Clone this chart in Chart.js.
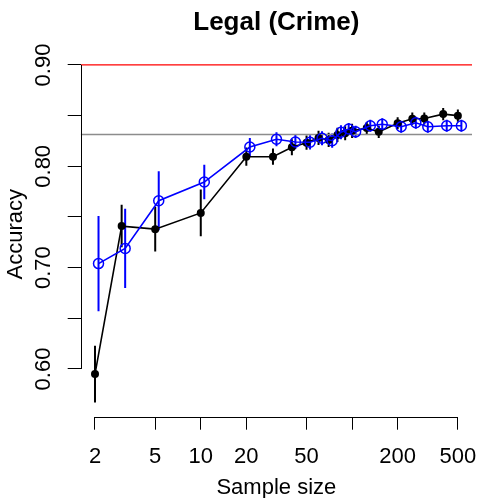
<!DOCTYPE html>
<html>
<head>
<meta charset="utf-8">
<script src="https://cdn.jsdelivr.net/npm/chart.js@4"></script>
<style>
  html, body { margin: 0; padding: 0; background: #fff; }
  canvas { display: block; }
</style>
</head>
<body>
<canvas id="chart_legal" width="498" height="498"></canvas>
<script>
// sample sizes (x) and accuracy for the two methods, with error half-widths
var sampleSizes = [2, 3, 5, 10, 20, 30, 40, 50, 60, 70, 80, 90, 100, 125, 150, 200, 250, 300, 400, 500];
var blackMean = [0.595, 0.741, 0.738, 0.754, 0.8095, 0.8095, 0.8188, 0.8233, 0.828, 0.826, 0.831, 0.8326, 0.835, 0.8378, 0.834, 0.8425, 0.847, 0.8472, 0.8515, 0.850];
var blackErr  = [0.028, 0.021, 0.022, 0.023, 0.009, 0.008, 0.008, 0.007, 0.007, 0.007, 0.007, 0.007, 0.007, 0.006, 0.006, 0.006, 0.006, 0.006, 0.006, 0.006];
var blueMean  = [0.704, 0.719, 0.766, 0.7845, 0.819, 0.8267, 0.824, 0.8237, 0.8277, 0.8253, 0.8336, 0.8368, 0.834, 0.840, 0.8415, 0.839, 0.843, 0.839, 0.840, 0.840];
var blueErr   = [0.047, 0.039, 0.029, 0.017, 0.009, 0.007, 0.007, 0.007, 0.007, 0.007, 0.007, 0.006, 0.006, 0.006, 0.006, 0.006, 0.006, 0.006, 0.006, 0.006];

var xTicks = [2, 5, 10, 20, 50, 100, 200, 500];
var xTickLabels = ['2', '5', '10', '20', '50', '', '200', '500'];
var yTicks = [0.60, 0.65, 0.70, 0.75, 0.80, 0.85, 0.90];
var yTickLabels = ['0.60', '', '0.70', '', '0.80', '', '0.90'];

var redLevel = 0.90;
var grayLevel = 0.8314;

var xMin = 1.609, xMax = 620;
var yMin = 0.5529, yMax = 0.913;
var blueShift = 1.055; // blue points are drawn slightly to the right

var FONT = '"Liberation Sans", Arial, Helvetica, sans-serif';

const toPoints = (xs, ys, k) => xs.map((n, i) => ({ x: n * k, y: ys[i] }));

const drawBars = (ctx, x, y, xs, ys, errs, k, color) => {
  ctx.save();
  ctx.strokeStyle = color;
  ctx.lineWidth = 2;
  ctx.beginPath();
  xs.forEach((n, i) => {
    var px = x.getPixelForValue(n * k);
    ctx.moveTo(px, y.getPixelForValue(ys[i] - errs[i]));
    ctx.lineTo(px, y.getPixelForValue(ys[i] + errs[i]));
  });
  ctx.stroke();
  ctx.restore();
};

const errorBars = {
  id: 'errorBars',
  beforeDatasetsDraw(chart) {
    var ctx = chart.ctx, x = chart.scales.x, y = chart.scales.y;
    drawBars(ctx, x, y, sampleSizes, blackMean, blackErr, 1, '#000000');
    drawBars(ctx, x, y, sampleSizes, blueMean, blueErr, blueShift, '#0000ff');
  }
};

// R style axes: line only between first and last tick, rotated y labels
const rAxes = {
  id: 'rAxes',
  afterDraw(chart) {
    var ctx = chart.ctx, x = chart.scales.x, y = chart.scales.y, area = chart.chartArea;
    ctx.save();
    ctx.strokeStyle = '#000';
    ctx.lineWidth = 1;
    ctx.beginPath();
    var yb = Math.round(area.bottom) + 0.5;
    ctx.moveTo(x.getPixelForValue(xTicks[0]), yb);
    ctx.lineTo(x.getPixelForValue(xTicks[xTicks.length - 1]), yb);
    var xl = Math.round(area.left) + 0.5;
    ctx.moveTo(xl, y.getPixelForValue(yTicks[0]));
    ctx.lineTo(xl, y.getPixelForValue(yTicks[yTicks.length - 1]));
    ctx.stroke();

    ctx.fillStyle = '#000';
    ctx.font = '22px ' + FONT;
    ctx.textAlign = 'center';
    ctx.textBaseline = 'alphabetic';
    yTicks.forEach((v, i) => {
      if (!yTickLabels[i]) return;
      ctx.save();
      ctx.translate(50, y.getPixelForValue(v));
      ctx.rotate(-Math.PI / 2);
      ctx.fillText(yTickLabels[i], 0, 0);
      ctx.restore();
    });
    ctx.save();
    ctx.translate(22, (area.top + area.bottom) / 2);
    ctx.rotate(-Math.PI / 2);
    ctx.fillText('Accuracy', 0, 0);
    ctx.restore();
    ctx.fillText('Sample size', (area.left + area.right) / 2, 494);
    ctx.restore();
  }
};

const lineAt = (level, color) => ({
  data: [{ x: xMin, y: level }, { x: xMax, y: level }],
  borderColor: color,
  borderWidth: 1.3,
  pointRadius: 0,
  order: 3
});

var ctx = document.getElementById('chart_legal').getContext('2d');
var legalChart = new Chart(ctx, {
  type: 'line',
  data: {
    datasets: [
      {
        data: toPoints(sampleSizes, blueMean, blueShift),
        borderColor: '#0000ff',
        borderWidth: 1.6,
        pointRadius: 5,
        pointBorderWidth: 1.5,
        pointBorderColor: '#0000ff',
        pointBackgroundColor: 'rgba(0,0,0,0)',
        order: 0
      },
      {
        data: toPoints(sampleSizes, blackMean, 1),
        borderColor: '#000000',
        borderWidth: 1.6,
        pointRadius: 4,
        pointBorderWidth: 0,
        pointBackgroundColor: '#000000',
        order: 1
      },
      lineAt(redLevel, '#ff0000'),
      lineAt(grayLevel, '#8c8c8c')
    ]
  },
  options: {
    responsive: false,
    animation: false,
    layout: { padding: { left: 0, right: 26, top: 0, bottom: 0 } },
    elements: { line: { tension: 0 } },
    plugins: {
      legend: { display: false },
      tooltip: { enabled: false },
      title: {
        display: true,
        text: 'Legal (Crime)',
        fullSize: false,
        color: '#000',
        font: { family: FONT, size: 26, weight: 'bold', lineHeight: 1.2 },
        padding: { top: 7, bottom: 13.6 }
      }
    },
    scales: {
      x: {
        type: 'logarithmic',
        min: xMin,
        max: xMax,
        border: { display: false },
        grid: { drawOnChartArea: false, drawTicks: true, tickLength: 13, color: '#000', lineWidth: 1 },
        afterBuildTicks: (scale) => { scale.ticks = xTicks.map(v => ({ value: v })); },
        afterFit: (scale) => { scale.height = 81.3; },
        ticks: {
          autoSkip: false,
          maxRotation: 0,
          minRotation: 0,
          padding: 14,
          color: '#000',
          font: { family: FONT, size: 22 },
          callback: (val, i) => xTickLabels[i]
        }
      },
      y: {
        type: 'linear',
        min: yMin,
        max: yMax,
        border: { display: false },
        grid: { drawOnChartArea: false, drawTicks: true, tickLength: 13, color: '#000', lineWidth: 1 },
        afterBuildTicks: (scale) => { scale.ticks = yTicks.map(v => ({ value: v })); },
        afterFit: (scale) => { scale.width = 80.7; },
        ticks: { display: false }
      }
    }
  },
  plugins: [errorBars, rAxes]
});
</script>
</body>
</html>
